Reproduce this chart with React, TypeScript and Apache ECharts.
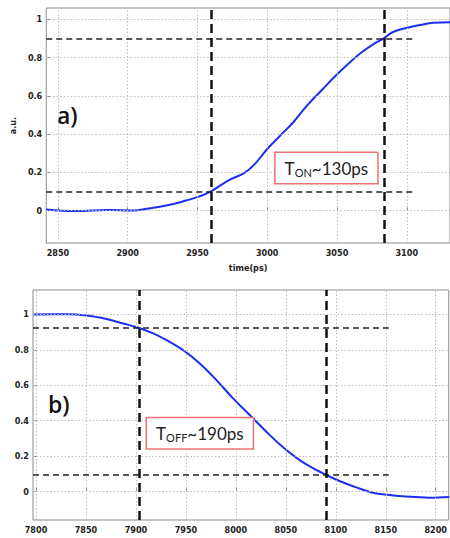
import React, { useEffect, useRef } from 'react';
import * as echarts from 'echarts';

// ---- data: a) turn-on ----
const onTime = [2841.4, 2862.4, 2885.8, 2904.4, 2913.7, 2927.7, 2941.7, 2951, 2959.7, 2972, 2983.7, 2990.7, 3000, 3009.4, 3018.7, 3028, 3039.7, 3049, 3058.3, 3067.7, 3077, 3083.5, 3089.8, 3099.1, 3109.6, 3119, 3131];
const onSignal = [0.005, -0.003, 0.003, 0, 0.009, 0.026, 0.052, 0.073, 0.1, 0.157, 0.197, 0.24, 0.322, 0.393, 0.462, 0.545, 0.635, 0.705, 0.77, 0.828, 0.875, 0.901, 0.933, 0.954, 0.971, 0.983, 0.985];
const onXRange = [2841.6, 3131];
const onYRange = [-0.17, 1.06];
const onXTicks = [2850, 2900, 2950, 3000, 3050, 3100];
const onLevels = [0.1, 0.9];
const onLevelEnd = 3104;
const onMarks = [2960, 3084];
const onNote = { x: 3042.4, y: 0.222, sub: 'ON', value: '~130ps' };

// ---- data: b) turn-off ----
const offTime = [7797.3, 7830.7, 7850.6, 7870.6, 7887.3, 7902.6, 7917.3, 7930.6, 7947.3, 7963.9, 7980.6, 7997.2, 8013.9, 8030.5, 8047.2, 8063.8, 8080.4, 8090.4, 8103.7, 8120.3, 8137, 8153.6, 8170.2, 8193.5, 8213.5];
const offSignal = [0.999, 1.0, 0.993, 0.973, 0.948, 0.924, 0.892, 0.854, 0.798, 0.723, 0.629, 0.526, 0.432, 0.338, 0.25, 0.178, 0.122, 0.094, 0.06, 0.024, -0.006, -0.019, -0.028, -0.034, -0.03];
const offXRange = [7797, 8213];
const offYRange = [-0.16, 1.137];
const offXTicks = [7800, 7850, 7900, 7950, 8000, 8050, 8100, 8150, 8200];
const offLevels = [0.094, 0.924];
const offLevelEnd = 8153;
const offMarks = [7903, 8090];
const offNote = { x: 7964, y: 0.329, sub: 'OFF', value: '~190ps' };

const yTicks = [0, 0.2, 0.4, 0.6, 0.8, 1];

const labelFont = "'Liberation Sans Narrow', 'DejaVu Sans Condensed', 'Liberation Sans', sans-serif";
const fmt = (v: number) => String(Math.round(v * 1000) / 1000);

function xAxis(gridIndex: number, range: number[], ticks: number[], name?: string) {
  return {
    type: 'value',
    gridIndex,
    min: range[0],
    max: range[1],
    name: name || '',
    nameLocation: 'middle',
    nameGap: 20,
    nameTextStyle: { fontFamily: labelFont, fontWeight: 'bold', fontSize: 9, color: '#222' },
    axisLine: { show: false },
    axisTick: { show: true, inside: true, length: 4, customValues: ticks, lineStyle: { color: '#888' } },
    axisLabel: { customValues: ticks, formatter: fmt, fontFamily: labelFont, fontWeight: 'bold', fontSize: 9, color: '#222', margin: 5 },
    splitLine: { show: false },
  };
}

function yAxis(gridIndex: number, range: number[], name?: string) {
  return {
    type: 'value',
    gridIndex,
    min: range[0],
    max: range[1],
    name: name || '',
    nameLocation: 'middle',
    nameRotate: 90,
    nameGap: 18,
    nameTextStyle: { fontFamily: labelFont, fontWeight: 'bold', fontSize: 9, color: '#222' },
    axisLine: { show: false },
    axisTick: { show: true, inside: true, length: 4, customValues: yTicks, lineStyle: { color: '#888' } },
    axisLabel: { customValues: yTicks, formatter: fmt, fontFamily: labelFont, fontWeight: 'bold', fontSize: 9, color: '#222', margin: 4 },
    splitLine: { show: false },
  };
}

// dotted grid lines at the tick positions, drawn through the axes' scales
function gridSeries(idx: number, xs: number[], ys: number[], xTicks: number[]) {
  const style = { color: '#bdbdbd', type: [1.5, 2] as number[], width: 1 };
  return {
    type: 'line',
    xAxisIndex: idx,
    yAxisIndex: idx,
    data: xs.map((x, i) => [x, ys[i]]),
    showSymbol: false,
    lineStyle: { opacity: 0 },
    z: 1,
    silent: true,
    markLine: {
      silent: true,
      symbol: 'none',
      label: { show: false },
      lineStyle: style,
      data: [...xTicks.map((t) => ({ xAxis: t })), ...yTicks.map((t) => ({ yAxis: t }))],
    },
  };
}

function curve(idx: number, xs: number[], ys: number[], levels: number[], levelStart: number, levelEnd: number, marks: number[], note: { x: number; y: number; sub: string; value: string }) {
  return {
    type: 'line',
    xAxisIndex: idx,
    yAxisIndex: idx,
    data: xs.map((x, i) => [x, ys[i]]),
    smooth: 0.4,
    showSymbol: false,
    z: 3,
    lineStyle: { color: '#1a2ff0', width: 2 },
    markLine: {
      silent: true,
      symbol: 'none',
      label: { show: false },
      data: [
        ...levels.map((v) => [
          { coord: [levelStart, v], lineStyle: { color: '#222', type: [6, 4], width: 1.5 } },
          { coord: [levelEnd, v] },
        ]),
        ...marks.map((m) => ({ xAxis: m, lineStyle: { color: '#111', type: [9, 5], width: 2.5 } })),
      ],
    },
    markPoint: {
      silent: true,
      symbol: 'rect',
      symbolSize: 0,
      data: [{ coord: [note.x, note.y] }],
      label: {
        show: true,
        position: 'inside',
        formatter: `{b|T}{s|${note.sub}}{b|${note.value}}`,
        backgroundColor: '#fff',
        borderColor: '#ee7272',
        borderWidth: 1.5,
        padding: [5, 9, 5, 9],
        rich: {
          b: { fontFamily: 'Lato, sans-serif', fontSize: 17, color: '#222', lineHeight: 20 },
          s: { fontFamily: 'Lato, sans-serif', fontSize: 11, color: '#222', padding: [9, 0, 0, 0], lineHeight: 20 },
        },
      },
    },
  };
}

export default function App() {
  const ref = useRef<HTMLDivElement>(null);
  useEffect(() => {
    document.body.style.margin = '0';
    const chart = echarts.init(ref.current!, null, { renderer: 'svg' });
    chart.setOption({
      animation: false,
      backgroundColor: '#fff',
      grid: [
        { left: 37, top: 8, width: 416, height: 235, show: true, borderColor: '#8c8c8c', borderWidth: 1, backgroundColor: 'transparent' },
        { left: 33, top: 290, width: 420, height: 230, show: true, borderColor: '#8c8c8c', borderWidth: 1, backgroundColor: 'transparent' },
      ],
      xAxis: [xAxis(0, onXRange, onXTicks, 'time(ps)'), xAxis(1, offXRange, offXTicks)],
      yAxis: [yAxis(0, onYRange, 'a.u.'), yAxis(1, offYRange)],
      graphic: [
        { type: 'text', left: 57, top: 103, style: { text: 'a)', fontFamily: "'Open Sans', sans-serif", fontSize: 23, fontWeight: 600, fill: '#111' } },
        { type: 'text', left: 48, top: 392, style: { text: 'b)', fontFamily: "'Open Sans', sans-serif", fontSize: 23, fontWeight: 600, fill: '#111' } },
      ],
      series: [
        gridSeries(0, onTime, onSignal, onXTicks),
        gridSeries(1, offTime, offSignal, offXTicks),
        curve(0, onTime, onSignal, onLevels, onXRange[0], onLevelEnd, onMarks, onNote),
        curve(1, offTime, offSignal, offLevels, offXRange[0], offLevelEnd, offMarks, offNote),
      ],
    });
    return () => chart.dispose();
  }, []);
  return <div ref={ref} style={{ width: 450, height: 538 }} />;
}
